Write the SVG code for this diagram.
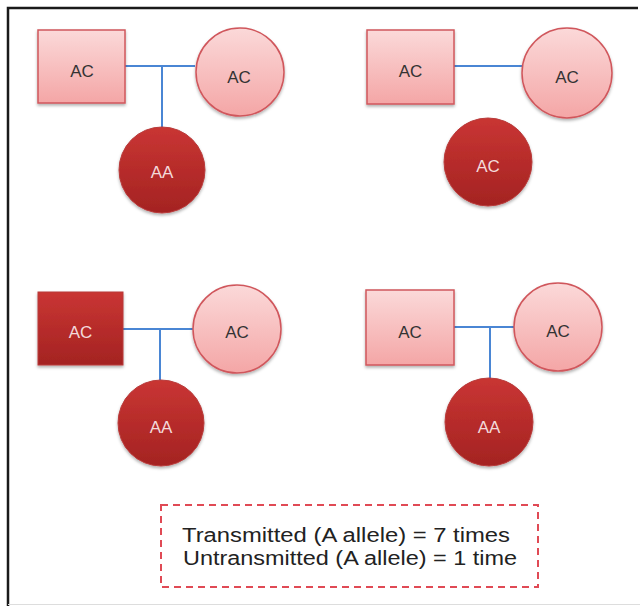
<svg xmlns="http://www.w3.org/2000/svg" width="640" height="606" viewBox="0 0 640 606">
<defs>
<linearGradient id="light" x1="0" y1="0" x2="0" y2="1">
<stop offset="0" stop-color="#fbd9d9"/>
<stop offset="1" stop-color="#f4a6a6"/>
</linearGradient>
<linearGradient id="dark" x1="0" y1="0" x2="0" y2="1">
<stop offset="0" stop-color="#c93533"/>
<stop offset="1" stop-color="#a42322"/>
</linearGradient>
<filter id="sh" x="-20%" y="-20%" width="140%" height="150%">
<feDropShadow dx="0" dy="2" stdDeviation="1.5" flood-color="#000" flood-opacity="0.3"/>
</filter>
</defs>
<style>
.l{fill:url(#light);stroke:#d0575c;stroke-width:1.5;filter:url(#sh)}
.d{fill:url(#dark);stroke:#b83a3a;stroke-width:1;filter:url(#sh)}
.tl{font-family:"Liberation Sans",Arial,sans-serif;font-size:17px;fill:#333;text-anchor:middle}
.td{font-family:"Liberation Sans",Arial,sans-serif;font-size:17px;fill:#f3dada;text-anchor:middle}
.c{stroke:#4a86d4;stroke-width:2;fill:none}
.note{font-family:"Liberation Sans",Arial,sans-serif;font-size:20px;fill:#222;text-anchor:middle}
</style>
<rect x="0" y="0" width="640" height="606" fill="#fff"/>
<path d="M8 606 V8 H638" fill="none" stroke="#1a1a1a" stroke-width="2.5"/>
<line x1="8" y1="604.5" x2="640" y2="604.5" stroke="#ddd" stroke-width="1"/>

<g id="connectors">
<path class="c" d="M125 66 H195 M162 66 V128"/>
<path class="c" d="M454 66 H522"/>
<path class="c" d="M123 329 H193 M160 329 V380"/>
<path class="c" d="M454 327 H514 M490 327 V380"/>
</g>

<g id="p1-father"><rect class="l" x="38" y="30" width="87" height="73"/><text class="tl" x="82" y="77">AC</text></g>
<g id="p1-mother"><circle class="l" cx="240" cy="72" r="44"/><text class="tl" x="239" y="83">AC</text></g>
<g id="p1-child"><circle class="d" cx="162" cy="170" r="43"/><text class="td" x="162" y="178">AA</text></g>

<g id="p2-father"><rect class="l" x="367" y="30" width="87" height="74"/><text class="tl" x="410.5" y="77">AC</text></g>
<g id="p2-mother"><circle class="l" cx="567" cy="73" r="45"/><text class="tl" x="567" y="83">AC</text></g>
<g id="p2-child"><circle class="d" cx="488" cy="162" r="44"/><text class="td" x="488" y="172">AC</text></g>

<g id="p3-father"><rect class="d" x="38" y="292" width="85" height="73"/><text class="td" x="80.5" y="338">AC</text></g>
<g id="p3-mother"><circle class="l" cx="237" cy="329" r="44"/><text class="tl" x="237" y="338">AC</text></g>
<g id="p3-child"><circle class="d" cx="161" cy="423" r="43"/><text class="td" x="161" y="433">AA</text></g>

<g id="p4-father"><rect class="l" x="366" y="290" width="88" height="75"/><text class="tl" x="410" y="338">AC</text></g>
<g id="p4-mother"><circle class="l" cx="558" cy="327" r="44"/><text class="tl" x="558" y="337">AC</text></g>
<g id="p4-child"><circle class="d" cx="489" cy="422" r="44"/><text class="td" x="489" y="433">AA</text></g>

<g id="note">
<rect x="161" y="505" width="377" height="82" fill="#fff" stroke="#e04a55" stroke-width="2" stroke-dasharray="7,5"/>
<text class="note" x="346" y="542" textLength="328" lengthAdjust="spacingAndGlyphs">Transmitted (A allele) = 7 times</text>
<text class="note" x="350" y="565" textLength="334" lengthAdjust="spacingAndGlyphs">Untransmitted (A allele) = 1 time</text>
</g>
</svg>
